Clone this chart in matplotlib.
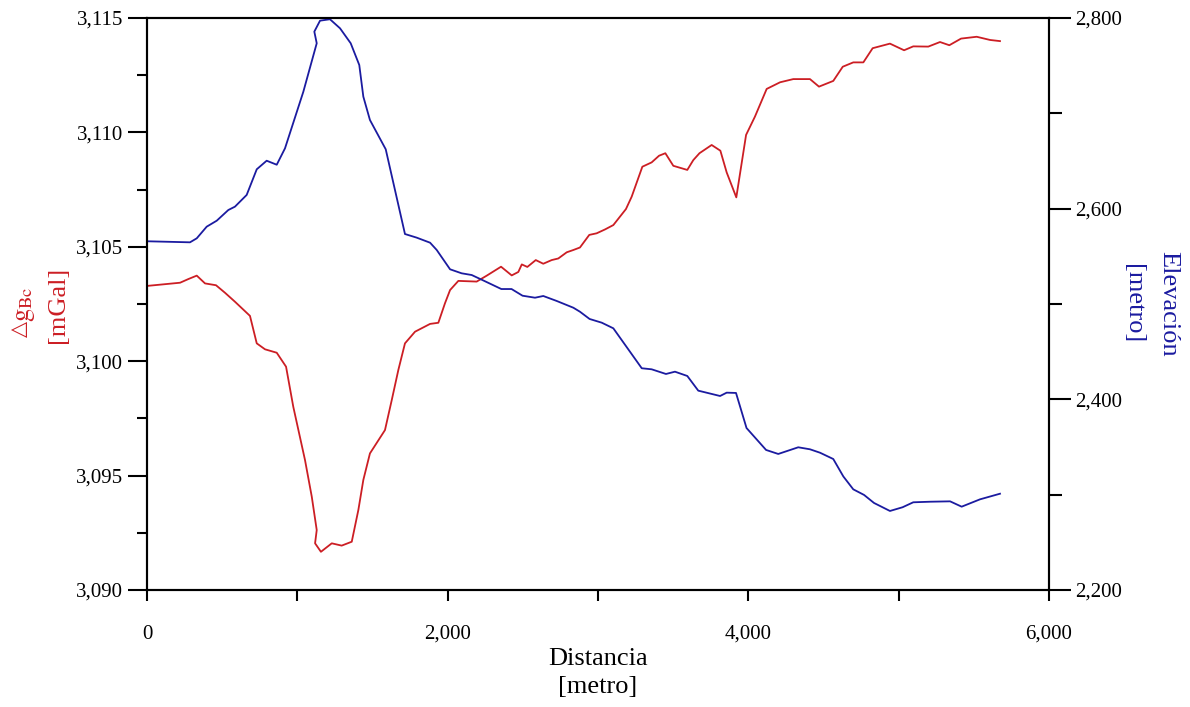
import matplotlib
matplotlib.use('Agg')
import matplotlib.pyplot as plt
from matplotlib.ticker import MultipleLocator, StrMethodFormatter

plt.rcParams['font.family'] = ['Liberation Serif', 'DejaVu Serif']
plt.rcParams['mathtext.fontset'] = 'stix'

rojo = '#CC1E24'
azul = '#1B1BA0'

# Anomalia de Bouguer completa a lo largo del perfil
dist_g = [0, 220, 275, 331, 386, 459, 519, 585, 685, 730, 785, 863, 925, 973,
          1051, 1096, 1129, 1118, 1157, 1229, 1295, 1362, 1406, 1439, 1483, 1583,
          1628, 1672, 1716, 1783, 1883, 1938, 1982, 2016, 2071, 2193, 2260, 2355,
          2426, 2470, 2493, 2530, 2586, 2636, 2692, 2736, 2792, 2836, 2880, 2942,
          2991, 3047, 3102, 3186, 3224, 3295, 3357, 3406, 3448, 3501, 3594, 3634,
          3675, 3756, 3814, 3856, 3920, 3985, 4044, 4122, 4211, 4299, 4410, 4470,
          4565, 4628, 4698, 4765, 4827, 4942, 5036, 5097, 5197, 5275, 5337, 5415,
          5519, 5608, 5674]
gbc = [3103.29, 3103.43, 3103.59, 3103.74, 3103.40, 3103.32, 3102.99, 3102.60,
       3101.98, 3100.78, 3100.52, 3100.37, 3099.76, 3098.01, 3095.68, 3094.08,
       3092.62, 3092.04, 3091.67, 3092.04, 3091.94, 3092.11, 3093.50, 3094.81,
       3095.97, 3096.99, 3098.30, 3099.62, 3100.78, 3101.29, 3101.63, 3101.68,
       3102.53, 3103.11, 3103.51, 3103.48, 3103.74, 3104.13, 3103.75, 3103.90,
       3104.23, 3104.12, 3104.42, 3104.26, 3104.42, 3104.49, 3104.76, 3104.86,
       3104.97, 3105.52, 3105.59, 3105.76, 3105.95, 3106.65, 3107.19, 3108.50,
       3108.69, 3108.98, 3109.09, 3108.54, 3108.36, 3108.79, 3109.09, 3109.45,
       3109.20, 3108.25, 3107.16, 3109.89, 3110.69, 3111.90, 3112.19, 3112.33,
       3112.33, 3112.00, 3112.25, 3112.87, 3113.06, 3113.06, 3113.68, 3113.88,
       3113.59, 3113.76, 3113.75, 3113.95, 3113.81, 3114.10, 3114.18, 3114.04,
       3113.99]

# Elevacion topografica
dist_h = [0, 286, 331, 397, 464, 541, 585, 663, 730, 796, 863, 918, 1040, 1129,
          1113, 1151, 1217, 1284, 1355, 1412, 1439, 1483, 1588, 1716, 1794, 1883,
          1927, 2016, 2093, 2160, 2237, 2357, 2425, 2498, 2581, 2636, 2725, 2836,
          2880, 2944, 3025, 3102, 3291, 3357, 3452, 3512, 3594, 3667, 3812, 3856,
          3918, 3988, 4118, 4199, 4332, 4410, 4477, 4565, 4632, 4698, 4770, 4836,
          4942, 5026, 5097, 5209, 5342, 5419, 5541, 5674]
elev = [2565.8, 2564.7, 2568.9, 2581.1, 2587.4, 2598.6, 2602.1, 2614.4, 2641.3,
        2650.3, 2646.1, 2663.3, 2722.7, 2773.5, 2785.7, 2797.2, 2798.7, 2789.2,
        2773.5, 2750.7, 2717.5, 2693.0, 2662.3, 2573.4, 2569.6, 2564.3, 2556.7,
        2536.4, 2532.2, 2530.4, 2524.7, 2515.7, 2515.7, 2508.7, 2506.6, 2508.4,
        2503.2, 2496.1, 2491.9, 2484.3, 2480.4, 2474.5, 2432.6, 2431.5, 2426.6,
        2429.0, 2424.5, 2409.1, 2403.5, 2407.0, 2406.7, 2369.9, 2346.9, 2342.7,
        2349.7, 2347.6, 2344.0, 2337.4, 2319.1, 2305.6, 2299.7, 2291.3, 2282.9,
        2286.8, 2292.0, 2292.6, 2293.0, 2287.4, 2295.1, 2301.0]

fig = plt.figure(figsize=(11.9, 7.07), dpi=100)
ax = fig.add_axes([147/1190, 117/707, 902/1190, 572/707])
ax2 = ax.twinx()

ax.plot(dist_g, gbc, color=rojo, lw=1.3)
ax2.plot(dist_h, elev, color=azul, lw=1.3)

ax.set_xlim(0, 6000)
ax.set_ylim(3090, 3115)
ax2.set_ylim(2200, 2800)

ax.xaxis.set_major_locator(MultipleLocator(2000))
ax.xaxis.set_minor_locator(MultipleLocator(1000))
ax.yaxis.set_major_locator(MultipleLocator(5))
ax.yaxis.set_minor_locator(MultipleLocator(2.5))
ax2.yaxis.set_major_locator(MultipleLocator(200))
ax2.yaxis.set_minor_locator(MultipleLocator(100))

fmt = StrMethodFormatter('{x:,.0f}')
ax.xaxis.set_major_formatter(fmt)
ax.yaxis.set_major_formatter(fmt)
ax2.yaxis.set_major_formatter(fmt)

for a in (ax, ax2):
    for s in a.spines.values():
        s.set_linewidth(1.5)
    a.tick_params(which='major', length=14, width=1.5, labelsize=15, pad=3)
    a.tick_params(which='minor', length=7, width=1.5)
ax2.tick_params(which='major', length=16, pad=3)
ax2.tick_params(which='minor', length=9)
ax.tick_params(axis='x', which='major', length=8, pad=17)
ax.tick_params(axis='x', which='minor', length=8)

ax.set_xlabel('Distancia\n[metro]', fontsize=19, linespacing=1.35, labelpad=3)

# etiqueta izquierda: triangulo + g con subindice Bc
fig.text(19/1190, 1 - 329/707, '△', family='DejaVu Sans', color=rojo,
         fontsize=15, rotation=90, ha='center', va='center')
fig.text(26/1190, 1 - 304/707, r'$\mathrm{g}_{\mathrm{Bc}}$', color=rojo,
         fontsize=19, rotation=90, ha='center', va='center')
fig.text(58/1190, 1 - 305/707, '[mGal]', color=rojo, fontsize=19,
         rotation=90, ha='center', va='center')
fig.text(1168/1190, 1 - 304/707, 'Elevación', color=azul, fontsize=19,
         rotation=270, ha='center', va='center')
fig.text(1133/1190, 1 - 304/707, '[metro]', color=azul, fontsize=19,
         rotation=270, ha='center', va='center')

fig.savefig('out.png', dpi=100)
